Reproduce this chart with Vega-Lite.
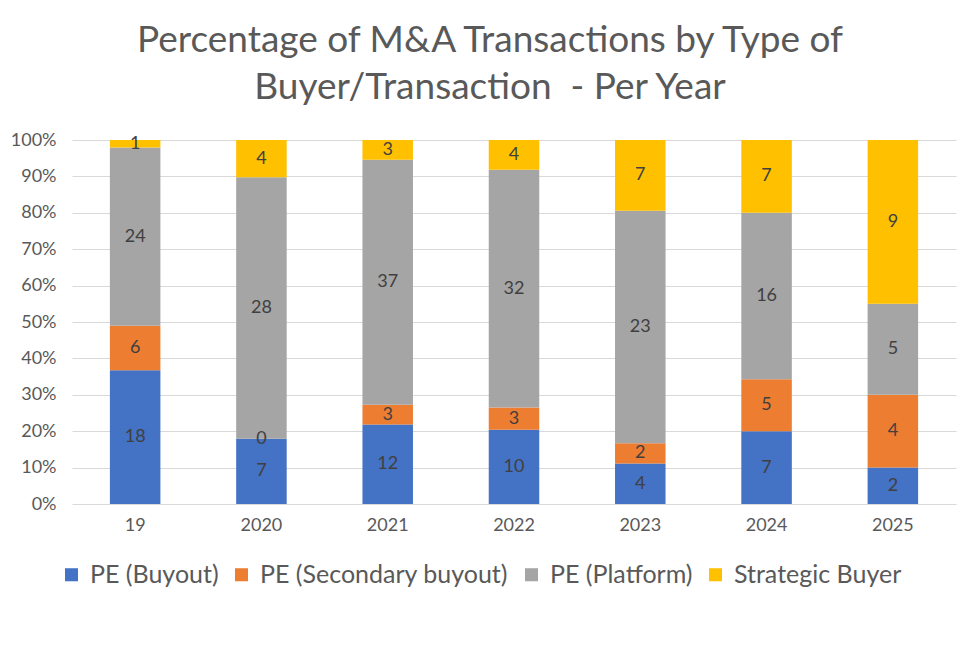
{
  "$schema": "https://vega.github.io/schema/vega-lite/v6.json",
  "width": 884,
  "height": 364,
  "autosize": {"type": "none"},
  "padding": {"left": 72, "top": 140, "right": 24, "bottom": 147},
  "background": "white",
  "config": {
    "font": "Lato",
    "view": {"stroke": null},
    "axis": {"labelFont": "Lato", "labelColor": "#595959", "labelFontSize": 18}
  },
  "title": {
    "text": ["Percentage of M&A Transactions by Type of", "Buyer/Transaction \u00a0- Per Year"],
    "font": "Lato",
    "fontSize": 37,
    "fontWeight": "normal",
    "color": "#595959",
    "anchor": "middle",
    "dx": -24,
    "offset": 24,
    "lineHeight": 47
  },
  "data": {
    "values": [
      {"year": "19", "type": "PE (Buyout)", "ord": 1, "count": 18},
      {"year": "19", "type": "PE (Secondary buyout)", "ord": 2, "count": 6},
      {"year": "19", "type": "PE (Platform)", "ord": 3, "count": 24},
      {"year": "19", "type": "Strategic Buyer", "ord": 4, "count": 1},
      {"year": "2020", "type": "PE (Buyout)", "ord": 1, "count": 7},
      {"year": "2020", "type": "PE (Secondary buyout)", "ord": 2, "count": 0},
      {"year": "2020", "type": "PE (Platform)", "ord": 3, "count": 28},
      {"year": "2020", "type": "Strategic Buyer", "ord": 4, "count": 4},
      {"year": "2021", "type": "PE (Buyout)", "ord": 1, "count": 12},
      {"year": "2021", "type": "PE (Secondary buyout)", "ord": 2, "count": 3},
      {"year": "2021", "type": "PE (Platform)", "ord": 3, "count": 37},
      {"year": "2021", "type": "Strategic Buyer", "ord": 4, "count": 3},
      {"year": "2022", "type": "PE (Buyout)", "ord": 1, "count": 10},
      {"year": "2022", "type": "PE (Secondary buyout)", "ord": 2, "count": 3},
      {"year": "2022", "type": "PE (Platform)", "ord": 3, "count": 32},
      {"year": "2022", "type": "Strategic Buyer", "ord": 4, "count": 4},
      {"year": "2023", "type": "PE (Buyout)", "ord": 1, "count": 4},
      {"year": "2023", "type": "PE (Secondary buyout)", "ord": 2, "count": 2},
      {"year": "2023", "type": "PE (Platform)", "ord": 3, "count": 23},
      {"year": "2023", "type": "Strategic Buyer", "ord": 4, "count": 7},
      {"year": "2024", "type": "PE (Buyout)", "ord": 1, "count": 7},
      {"year": "2024", "type": "PE (Secondary buyout)", "ord": 2, "count": 5},
      {"year": "2024", "type": "PE (Platform)", "ord": 3, "count": 16},
      {"year": "2024", "type": "Strategic Buyer", "ord": 4, "count": 7},
      {"year": "2025", "type": "PE (Buyout)", "ord": 1, "count": 2},
      {"year": "2025", "type": "PE (Secondary buyout)", "ord": 2, "count": 4},
      {"year": "2025", "type": "PE (Platform)", "ord": 3, "count": 5},
      {"year": "2025", "type": "Strategic Buyer", "ord": 4, "count": 9}
    ]
  },
  "encoding": {
    "x": {
      "field": "year",
      "type": "nominal",
      "sort": null,
      "scale": {"paddingInner": 0.6, "paddingOuter": 0.3},
      "axis": {"title": null, "labelAngle": 0, "domain": false, "ticks": false, "labelPadding": 12}
    },
    "y": {
      "field": "count",
      "type": "quantitative",
      "stack": "normalize",
      "scale": {"domain": [0, 1], "nice": false},
      "axis": {
        "title": null,
        "format": ".0%",
        "values": [0, 0.1, 0.2, 0.3, 0.4, 0.5, 0.6, 0.7, 0.8, 0.9, 1],
        "labelOverlap": false,
        "domain": false,
        "ticks": false,
        "labelPadding": 16,
        "gridColor": "#D9D9D9",
        "gridWidth": 1
      }
    },
    "order": {"field": "ord", "type": "quantitative"}
  },
  "layer": [
    {
      "mark": {"type": "bar"},
      "encoding": {
        "color": {
          "field": "type",
          "type": "nominal",
          "sort": ["PE (Buyout)", "PE (Secondary buyout)", "PE (Platform)", "Strategic Buyer"],
          "scale": {
            "domain": ["PE (Buyout)", "PE (Secondary buyout)", "PE (Platform)", "Strategic Buyer"],
            "range": ["#4472C4", "#ED7D31", "#A5A5A5", "#FFC000"]
          },
          "legend": {
            "title": null,
            "orient": "none",
            "legendX": -13,
            "legendY": 422,
            "direction": "horizontal",
            "symbolType": "square",
            "symbolSize": 170,
            "symbolStrokeWidth": 0,
            "labelFont": "Lato",
            "labelFontSize": 25,
            "labelColor": "#595959",
            "labelLimit": 0,
            "columnPadding": 10,
            "labelOffset": 6
          }
        }
      }
    },
    {
      "mark": {"type": "text", "fontSize": 18, "color": "#404040", "font": "Lato"},
      "encoding": {
        "y": {"field": "count", "type": "quantitative", "stack": "normalize", "bandPosition": 0.5},
        "text": {"field": "count", "type": "quantitative"}
      }
    }
  ]
}
